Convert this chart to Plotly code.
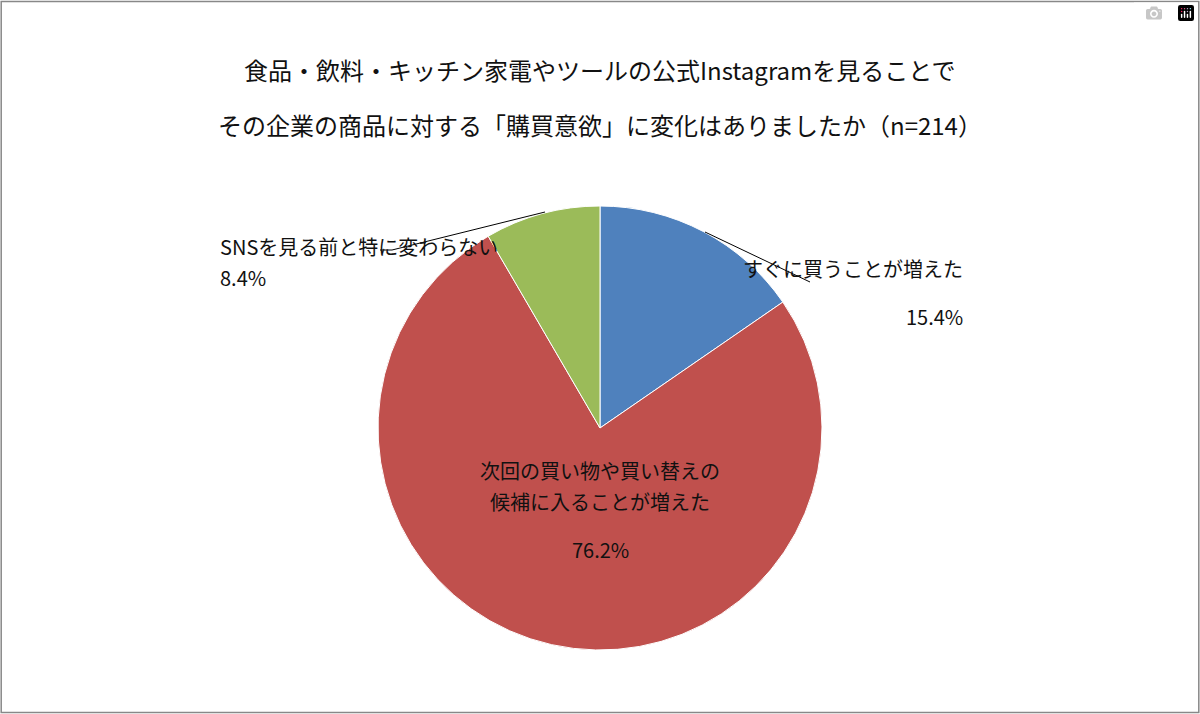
import plotly.graph_objects as go

W, H = 1200, 714

labels = ['すぐに買うことが増えた', '次回の買い物や買い替えの候補に入ることが増えた', 'SNSを見る前と特に変わらない']
label_lines = [['すぐに買うことが増えた'], ['次回の買い物や買い替えの', '候補に入ることが増えた'], ['SNSを見る前と特に変わらない']]
values = [15.4, 76.2, 8.4]
colors = ['#4F81BD', '#C0504D', '#9BBB59']
title_lines = ['食品・飲料・キッチン家電やツールの公式Instagramを見ることで',
               'その企業の商品に対する「購買意欲」に変化はありましたか（n=214）']

FONT = 'Noto Sans CJK JP'


def px(x, y):
    return x / W, 1 - y / H


fig = go.Figure(go.Pie(
    labels=labels,
    values=values,
    marker=dict(colors=colors, line=dict(color='white', width=1)),
    sort=False,
    direction='clockwise',
    rotation=0,
    textinfo='none',
    hoverinfo='label+percent',
    domain=dict(x=[(600 - 222) / W, (600 + 222) / W], y=[(714 - 650) / H, (714 - 206) / H]),
))

annotations = []
for i, line in enumerate(title_lines):
    x, y = px(600, 50 + i * 55)
    annotations.append(dict(x=x, y=y, text=line, showarrow=False,
                            font=dict(size=24, color='#111')))

# label centre x and first-line y (pixels)
label_pos = [(965, 268), (600, 470), (218, 230)]
for (lx, ly), lines, v in zip(label_pos, label_lines, values):
    for j, t in enumerate(lines + [f'{v}%']):
        x, y = px(lx, ly + j * 48)
        annotations.append(dict(x=x, y=y, text=t, showarrow=False,
                                font=dict(size=20, color='#111')))

shapes = []
for pts in [[(705, 232), (810, 282)], [(545, 212), (392, 250), (380, 250)]]:
    for a, b in zip(pts[:-1], pts[1:]):
        x0, y0 = px(*a)
        x1, y1 = px(*b)
        shapes.append(dict(type='line', xref='paper', yref='paper', x0=x0, y0=y0, x1=x1, y1=y1,
                           line=dict(color='black', width=1)))
shapes.append(dict(type='rect', xref='paper', yref='paper', x0=0.001, y0=0.002, x1=0.999, y1=0.998,
                   line=dict(color='#888', width=1.5)))

fig.update_layout(
    width=W, height=H,
    margin=dict(l=0, r=0, t=0, b=0),
    showlegend=False,
    paper_bgcolor='white',
    font=dict(family=FONT, color='#111'),
    annotations=annotations,
    shapes=shapes,
)

fig.write_html('out.html', post_script="document.body.style.margin='0';")
